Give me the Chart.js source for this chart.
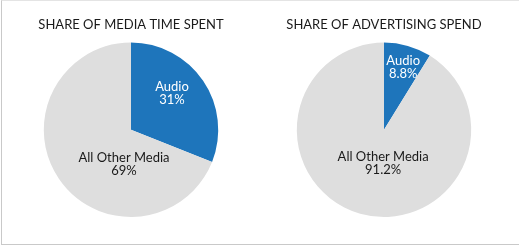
<!DOCTYPE html>
<html lang="en">

<head>
  <meta charset="UTF-8">
  <title>Audio share</title>
  <script src="https://cdn.jsdelivr.net/npm/chart.js"></script>
  <style>
    body { margin: 0; background: #fff; }
    .frame {
      position: relative;
      width: 517px;
      height: 243px;
      border: 1px solid #c9c9c9;
      border-top-color: #e4e4e4;
      margin-left: 1px;
      overflow: hidden;
    }
    .panel { position: absolute; top: 0; width: 259px; height: 246px; }
    #left { left: -1px; }
    #right { left: 258px; }
  </style>
</head>

<body>
  <div class="frame">
    <div class="panel" id="left"><canvas id="timeChart"></canvas></div>
    <div class="panel" id="right"><canvas id="spendChart"></canvas></div>
  </div>

<script>
  // data
  const categories = ['Audio', 'All Other Media'];
  const timeShare = [31, 69];
  const spendShare = [8.8, 91.2];
  const timeLabels = ['31%', '69%'];
  const spendLabels = ['8.8%', '91.2%'];

  const blue = '#1e75bb';
  const grey = '#dedede';

  // draws "name / value" text inside each slice, offset from the pie centre (fraction of radius)
  const sliceLabels = {
    id: 'sliceLabels',
    afterDatasetsDraw(chart, args, opts) {
      const ctx = chart.ctx;
      const meta = chart.getDatasetMeta(0);
      ctx.save();
      ctx.font = '13px Lato';
      ctx.textAlign = 'center';
      ctx.textBaseline = 'middle';
      meta.data.forEach((arc, i) => {
        const r = arc.outerRadius;
        const x = arc.x + opts.offsets[i][0] * r;
        const y = arc.y + opts.offsets[i][1] * r;
        ctx.fillStyle = opts.colors[i];
        ctx.fillText(chart.data.labels[i], x, y - 6.5);
        ctx.fillText(opts.values[i], x, y + 6.5);
      });
      ctx.restore();
    }
  };

  function makePie(id, title, values, valueLabels, offsets, padding) {
    new Chart(document.getElementById(id), {
      type: 'pie',
      data: {
        labels: categories,
        datasets: [{
          data: values,
          backgroundColor: [blue, grey],
          borderWidth: 0
        }]
      },
      options: {
        responsive: false,
        animation: false,
        layout: { padding: padding },
        plugins: {
          legend: { display: false },
          tooltip: { enabled: false },
          title: {
            display: true,
            text: title,
            color: '#1a1a1a',
            font: { family: 'Lato', size: 13, weight: 'normal', lineHeight: 1.2 },
            padding: { top: 16, bottom: 10 }
          },
          sliceLabels: {
            offsets: offsets,
            values: valueLabels,
            colors: ['#ffffff', '#1a1a1a']
          }
        }
      },
      plugins: [sliceLabels]
    });
  }

  function setSize(id) {
    const c = document.getElementById(id);
    c.width = 259;
    c.height = 246;
    c.style.width = '259px';
    c.style.height = '246px';
  }

  setSize('timeChart');
  setSize('spendChart');

  makePie('timeChart', 'SHARE OF MEDIA TIME SPENT', timeShare, timeLabels,
    [[0.47, -0.42], [-0.08, 0.40]], { top: 0, bottom: 30, left: 1, right: 0 });
  makePie('spendChart', 'SHARE OF ADVERTISING SPEND', spendShare, spendLabels,
    [[0.22, -0.72], [-0.01, 0.39]], { top: 0, bottom: 30, left: 0, right: 11 });
</script>
</body>

</html>
